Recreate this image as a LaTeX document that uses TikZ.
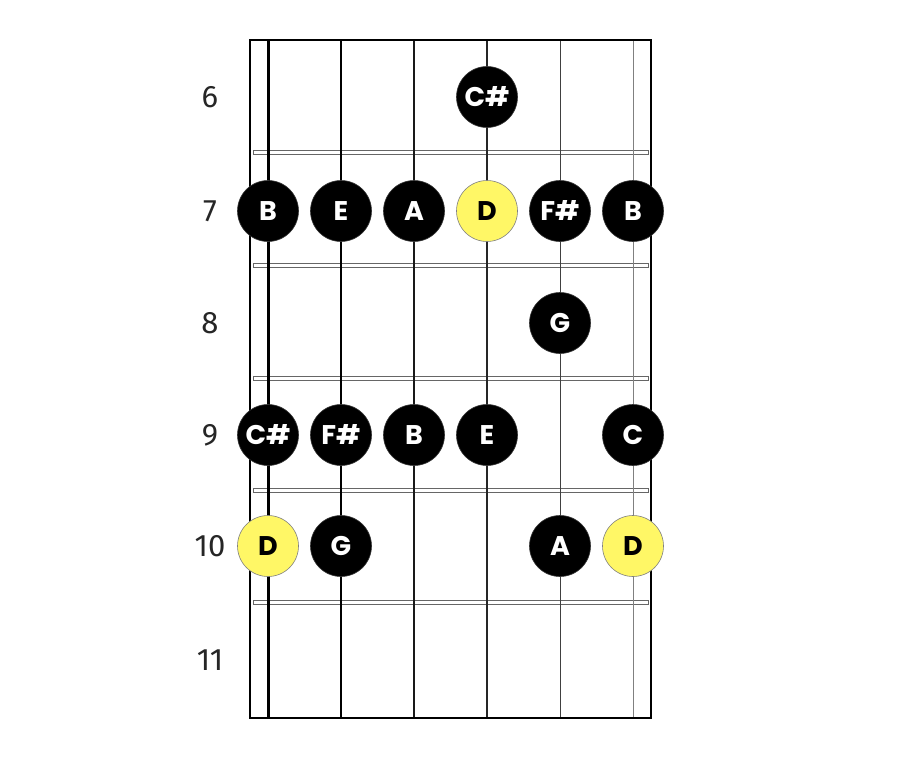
\documentclass[tikz,border=0pt]{standalone}
\usepackage{fontspec}
\setmainfont{Fira Sans}
\newfontfamily\notefont{Poppins}[UprightFont=* Bold]
\tikzset{
  note/.style={circle,draw=black!80,line width=0.6pt,fill=black,text=white,minimum size=61pt,inner sep=0pt,font=\notefont\fontsize{27}{27}\selectfont},
  root/.style={note,fill=yellow!60,draw=black!50,text=black},
  fretbar/.style={draw=black!60,line width=0.8pt,fill=white},
  fretnum/.style={font=\fontsize{31}{31}\selectfont,text=black!85}
}
\begin{document}
\begin{tikzpicture}[x=1pt,y=-1pt]
\useasboundingbox (0,0) rectangle (901,781);
% frets
\foreach \fy in {150,263,376,488,600}
  \draw[fretbar] (253,\fy) rectangle (648,\fy+4);
% strings
\foreach \sx/\sw/\sc [count=\si] in {268/3/black,341/2.6/black,414/2/black!90,487/1.5/black!85,560/1/black!75,633/0.8/black!50}
  \draw[line width=\sw pt,draw=\sc] (\sx,40) -- (\sx,718);
% frame
\draw[line width=2.8pt] (250,40) rectangle (651,718);
% fret numbers
\foreach \fn/\fy in {6/97,7/211,8/323,9/435,10/546,11/660}
  \node[fretnum] (f\fn) at (210,\fy) {\fn};
% notes
\node[note] (n6-4) at (487,97) {C\#};
\foreach \nt/\st [count=\ni] in {B/note,E/note,A/note,D/root,F\#/note,B/note}
  \node[\st] (n7-\ni) at (268+73*\ni-73,211) {\nt};
\node[note] (n8-5) at (560,323) {G};
\node[note] (n9-1) at (268,435) {C\#};
\node[note] (n9-2) at (341,435) {F\#};
\node[note] (n9-3) at (414,435) {B};
\node[note] (n9-4) at (487,435) {E};
\node[note] (n9-6) at (633,435) {C};
\node[root] (n10-1) at (268,546) {D};
\node[note] (n10-2) at (341,546) {G};
\node[note] (n10-5) at (560,546) {A};
\node[root] (n10-6) at (633,546) {D};
\end{tikzpicture}
\end{document}
